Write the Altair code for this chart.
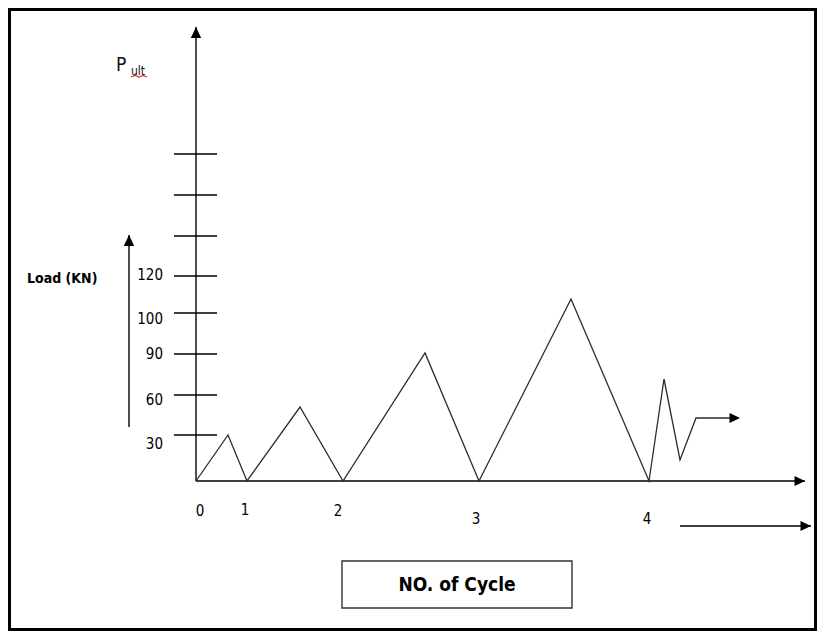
import altair as alt
import pandas as pd

# Diagram units: x = distance right of the origin, y = height above the baseline
path_x = [0, 32, 51, 104, 147, 229, 283, 375, 453, 468, 484, 500, 538]
path_y = [0, 46, 0, 74, 0, 128, 0, 182, 0, 102, 21, 63, 63]

tick_levels = [46, 86, 127, 168, 205, 245, 286, 327]
load_labels = ["30", "60", "90", "100", "120"]
load_label_y = [37, 81, 127, 162, 206]

cycle_labels = ["0", "1", "2", "3", "4"]
cycle_label_x = [4, 49, 142, 280, 451]
cycle_label_y = [-30, -29, -30, -38, -38]

FONT = "DejaVu Sans Condensed, Lato, sans-serif"
XS = alt.Scale(domain=[-188, 621], nice=False, zero=False)
YS = alt.Scale(domain=[-150, 473], nice=False, zero=False)

def X(f="x"):
    return alt.X(f + ":Q", scale=XS, axis=None)

def Y(f="y"):
    return alt.Y(f + ":Q", scale=YS, axis=None)

# load path
path_df = pd.DataFrame({"x": path_x, "y": path_y, "o": range(len(path_x))})
path = alt.Chart(path_df).mark_line(color="#2b2b2b", strokeWidth=1.3).encode(
    x=X(), y=Y(), order="o:Q")

# straight segments: axes, ticks, side arrows
seg_rows = [
    (0, 0, 609, 0), (0, 0, 0, 454),
    (-67, 54, -67, 246), (484, -45, 615, -45),
]
seg_rows += [(-22, t, 21, t) for t in tick_levels]
seg_df = pd.DataFrame(seg_rows, columns=["x", "y", "x2", "y2"])
segs = alt.Chart(seg_df).mark_rule(color="black", strokeWidth=1.4).encode(
    x=X(), y=Y(), x2="x2:Q", y2="y2:Q")

# arrow heads
right_df = pd.DataFrame({"x": [609, 544, 615], "y": [0, 63, -45]})
up_df = pd.DataFrame({"x": [0, -67], "y": [454, 246]})
right_heads = alt.Chart(right_df).mark_point(
    shape="M0,0 L-2,-0.95 L-2,0.95 Z", filled=True, color="black", opacity=1,
    size=110, strokeWidth=0).encode(x=X(), y=Y())
up_heads = alt.Chart(up_df).mark_point(
    shape="M0,0 L-0.95,2 L0.95,2 Z", filled=True, color="black", opacity=1,
    size=120, strokeWidth=0).encode(x=X(), y=Y())

# boxes: outer frame and x title box
box_df = pd.DataFrame({"x": [-186.5, 146], "y": [471.5, -80],
                       "x2": [619.5, 376], "y2": [-148.5, -127]})
frame = alt.Chart(box_df.iloc[[0]]).mark_rect(
    fill=None, stroke="black", strokeWidth=3).encode(
    x=X(), y=Y(), x2="x2:Q", y2="y2:Q")
tbox = alt.Chart(box_df.iloc[[1]]).mark_rect(
    fill=None, stroke="#333333", strokeWidth=1.4).encode(
    x=X(), y=Y(), x2="x2:Q", y2="y2:Q")

# load tick labels
ll_df = pd.DataFrame({"x": [-33] * len(load_labels), "y": load_label_y, "t": load_labels})
load_text = alt.Chart(ll_df).mark_text(
    align="right", baseline="middle", font=FONT, fontSize=15, color="#000000").encode(
    x=X(), y=Y(), text="t:N")

cl_df = pd.DataFrame({"x": cycle_label_x, "y": cycle_label_y, "t": cycle_labels})
cycle_text = alt.Chart(cl_df).mark_text(
    align="center", baseline="middle", font=FONT, fontSize=15, color="#000000").encode(
    x=X(), y=Y(), text="t:N")

# titles
title_df = pd.DataFrame({"x": [-169], "y": [202], "t": ["Load (KN)"]})
load_title = alt.Chart(title_df).mark_text(
    align="left", baseline="middle", font=FONT, fontSize=14, fontWeight="bold",
    color="#000000").encode(x=X(), y=Y(), text="t:N")

xt_df = pd.DataFrame({"x": [261], "y": [-104], "t": ["NO. of Cycle"]})
x_title = alt.Chart(xt_df).mark_text(
    align="center", baseline="middle", font=FONT, fontSize=19, fontWeight="bold",
    color="#000000").encode(x=X(), y=Y(), text="t:N")

p_df = pd.DataFrame({"x": [-80], "y": [416], "t": ["P"]})
p_text = alt.Chart(p_df).mark_text(
    align="left", baseline="middle", font=FONT, fontSize=19, color="#111111").encode(
    x=X(), y=Y(), text="t:N")
ult_df = pd.DataFrame({"x": [-65], "y": [410], "t": ["ult"]})
ult_text = alt.Chart(ult_df).mark_text(
    align="left", baseline="middle", font=FONT, fontSize=12, color="#111111").encode(
    x=X(), y=Y(), text="t:N")
sq_df = pd.DataFrame({"x": [-65, -61, -57, -53, -49], "y": [404, 405.5, 404, 405.5, 404],
                      "o": range(5)})
squiggle = alt.Chart(sq_df).mark_line(color="#e03030", strokeWidth=1.2).encode(
    x=X(), y=Y(), order="o:Q")

chart = alt.layer(
    frame, tbox, segs, path, right_heads, up_heads,
    load_text, cycle_text, load_title, x_title, p_text, ult_text, squiggle,
).properties(
    width=809, height=623, padding=0,
    autosize=alt.AutoSizeParams(type="none"),
).configure_view(stroke=None).configure(background="white")

chart.save("out.html", embed_options={"renderer": "svg", "actions": False})
